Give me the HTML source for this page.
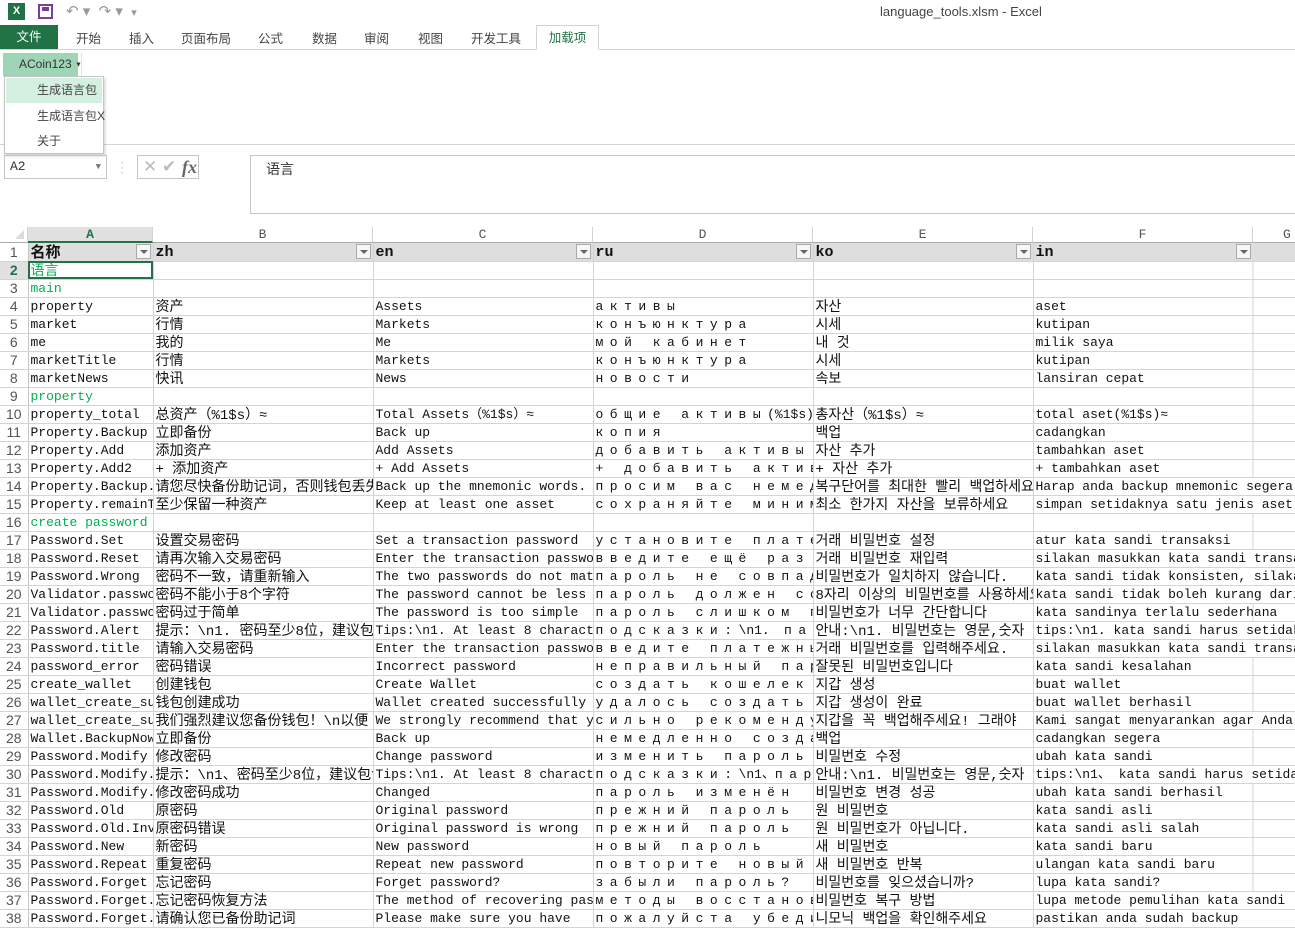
<!DOCTYPE html>
<html><head><meta charset="utf-8"><style>
*{margin:0;padding:0;box-sizing:border-box}
body{width:1295px;height:914px;overflow:hidden;background:#fff;position:relative;font-family:"Liberation Sans","Noto Sans CJK SC",sans-serif;color:#444}
.abs{position:absolute;white-space:nowrap}
.tab{position:absolute;top:28px;font-size:12.5px;color:#444}
table{position:absolute;left:0;top:243px;border-collapse:collapse;table-layout:fixed;width:1295px}
td{height:18px;border-right:1px solid #d4d4d4;border-bottom:1px solid #d4d4d4;white-space:nowrap;overflow:hidden;font:13px/17px "Liberation Mono","Noto Sans CJK SC",monospace;color:#111;padding:0 2px;vertical-align:bottom}
td.n{font:14px/17px "Liberation Sans",sans-serif;color:#555;text-align:center;padding:0;background:#fff;border-right:1px solid #c6c6c6}
td.z{font-size:14px;font-family:"Liberation Mono","Noto Sans CJK SC",monospace;vertical-align:top;line-height:13px;padding-top:4px}
td.k{font-size:14px;font-family:"Liberation Mono","Noto Sans CJK KR",monospace;vertical-align:top;line-height:13px;padding-top:4px}
td.r{letter-spacing:6.5px}
td.gr{color:#00b050}
td.g{background:linear-gradient(to right,transparent 219px,#d4d4d4 219px,#d4d4d4 220px,transparent 220px)}
tr.h td{background:#dedede;font-weight:bold;font-size:15px;position:relative}
.dd{position:absolute;right:2px;top:1px;width:15px;height:15px;background:#f6f6f6;border:1px solid #aaa}
.dd:after{content:"";position:absolute;left:3px;top:5px;border-left:4px solid transparent;border-right:4px solid transparent;border-top:4px solid #666}
.ch{position:absolute;top:227px;height:16px;font:13px/16px "Liberation Mono",monospace;color:#555;text-align:center;border-right:1px solid #d4d4d4;background:#fff;border-bottom:1px solid #ababab}
.mi{height:25px;font-size:12px;line-height:25px;padding-left:32px;color:#444;white-space:nowrap}
</style></head><body>
<div class="abs" style="left:8px;top:3px;width:17px;height:17px;background:#217346;color:#fff;font:bold 11px/17px 'Liberation Sans';text-align:center">X</div>
<div class="abs" style="left:38px;top:4px;width:15px;height:15px;border:2px solid #7b3d9c;background:#fff"><div style="margin:1px 2px;height:4px;background:#7b3d9c"></div></div>
<div class="abs" style="left:66px;top:2px;font-size:15px;color:#999">↶ ▾ &nbsp;↷ ▾ &nbsp;<span style="font-size:11px">▾</span></div>
<div class="abs" style="left:880px;top:4px;font-size:13px;color:#444">language_tools.xlsm - Excel</div>
<div class="abs" style="left:0;top:25px;width:58px;height:25px;background:#217346;color:#fff;font-size:12.5px;text-align:center;line-height:24px">文件</div>
<div class="tab" style="left:76px">开始</div>
<div class="tab" style="left:129px">插入</div>
<div class="tab" style="left:181px">页面布局</div>
<div class="tab" style="left:258px">公式</div>
<div class="tab" style="left:312px">数据</div>
<div class="tab" style="left:364px">审阅</div>
<div class="tab" style="left:418px">视图</div>
<div class="tab" style="left:471px">开发工具</div>
<div class="abs" style="left:0;top:49px;width:1295px;height:1px;background:#d4d4d4"></div>
<div class="abs" style="left:536px;top:25px;width:63px;height:25px;border:1px solid #d4d4d4;border-bottom:1px solid #fff;background:#fff;color:#217346;font-size:12.5px;text-align:center;line-height:24px">加载项</div>
<div class="abs" style="left:0;top:144px;width:1295px;height:1px;background:#d4d4d4"></div>
<div class="abs" style="left:81px;top:53px;width:1px;height:90px;background:#e2e2e2"></div>
<div class="abs" style="left:3px;top:53px;width:75px;height:23px;background:#9fd5b7;font-size:12px;line-height:23px;color:#333;padding-left:16px">ACoin123 <span style="font-size:7px;vertical-align:middle">▼</span></div>
<div class="abs" style="left:4px;top:76px;width:100px;height:78px;background:#fff;border:1px solid #c6c6c6;box-shadow:1px 2px 3px rgba(0,0,0,.2)">
<div class="mi" style="margin:1px;background:#d3f0e0;padding-left:31px">生成语言包</div>
<div class="mi">生成语言包X</div>
<div class="mi">关于</div>
</div>
<div class="abs" style="left:4px;top:155px;width:103px;height:24px;border:1px solid #c6c6c6;font:13px/22px 'Liberation Mono';padding-left:5px;color:#333">A2<span style="position:absolute;right:5px;font-size:9px;color:#777">▼</span></div>
<div class="abs" style="left:120px;top:160px;color:#bbb;font-size:12px;line-height:5px">·<br>·<br>·</div>
<div class="abs" style="left:137px;top:155px;width:62px;height:24px;border:1px solid #c6c6c6;color:#bbb;font-size:17px;line-height:22px;padding-left:5px;overflow:hidden">✕ ✔<i style="position:absolute;left:44px;top:0;color:#666;font-family:'Liberation Serif';font-size:18px"><b>fx</b></i></div>
<div class="abs" style="left:250px;top:155px;width:1050px;height:59px;border:1px solid #c6c6c6;font-size:14px;padding:3px 15px;color:#333">语言</div>
<div class="abs" style="left:0;top:227px;width:28px;height:16px;background:#fff;border-right:1px solid #d4d4d4;border-bottom:1px solid #ababab"><div style="position:absolute;right:3px;bottom:3px;border-left:9px solid transparent;border-bottom:9px solid #dcdcdc"></div></div>
<div class="ch" style="left:28px;width:125px;background:#e1e1e1;color:#217346;font-weight:bold;border-bottom:2px solid #217346">A</div>
<div class="ch" style="left:153px;width:220px">B</div>
<div class="ch" style="left:373px;width:220px">C</div>
<div class="ch" style="left:593px;width:220px">D</div>
<div class="ch" style="left:813px;width:220px">E</div>
<div class="ch" style="left:1033px;width:220px">F</div>
<div class="ch" style="left:1253px;width:60px;text-align:left;padding-left:30px">G</div>
<table>
<colgroup><col style="width:28px"><col style="width:125px"><col style="width:220px"><col style="width:220px"><col style="width:220px"><col style="width:220px"><col style="width:262px"></colgroup>
<tr class="h"><td class="n" style="font-weight:normal;font-size:14px;background:#fff">1</td><td class="z" style="font-weight:bold;font-size:15px">名称<span class="dd"></span></td><td>zh<span class="dd"></span></td><td>en<span class="dd"></span></td><td>ru<span class="dd"></span></td><td>ko<span class="dd"></span></td><td class="g" style="background:#dedede">in<span class="dd" style="right:44px"></span></td></tr>
<tr><td class="n" style="background:#e1e1e1;color:#217346;font-weight:bold">2</td><td class="z gr" style="outline:2px solid #217346;outline-offset:-2px">语言</td><td></td><td></td><td></td><td></td><td class="g"></td></tr>
<tr><td class="n">3</td><td class="gr">main</td><td></td><td></td><td></td><td></td><td class="g"></td></tr>
<tr><td class="n">4</td><td>property</td><td class="z">资产</td><td>Assets</td><td class="r">активы</td><td class="k">자산</td><td class="g">aset</td></tr>
<tr><td class="n">5</td><td>market</td><td class="z">行情</td><td>Markets</td><td class="r"> конъюнктура</td><td class="k">시세</td><td class="g">kutipan</td></tr>
<tr><td class="n">6</td><td>me</td><td class="z">我的</td><td>Me</td><td class="r">мой кабинет</td><td class="k">내 것</td><td class="g">milik saya</td></tr>
<tr><td class="n">7</td><td>marketTitle</td><td class="z">行情</td><td>Markets</td><td class="r">конъюнктура</td><td class="k">시세</td><td class="g">kutipan</td></tr>
<tr><td class="n">8</td><td>marketNews</td><td class="z">快讯</td><td>News</td><td class="r">новости</td><td class="k">속보</td><td class="g">lansiran cepat</td></tr>
<tr><td class="n">9</td><td class="gr">property</td><td></td><td></td><td></td><td></td><td class="g"></td></tr>
<tr><td class="n">10</td><td>property_total</td><td class="z">总资产（%1$s）≈</td><td>Total Assets（%1$s）≈</td><td class="r">общие активы<span style="letter-spacing:0">(%1$s)</span></td><td class="k">총자산（%1$s）≈</td><td class="g">total aset(%1$s)≈</td></tr>
<tr><td class="n">11</td><td>Property.Backup</td><td class="z">立即备份</td><td>Back up</td><td class="r">копия</td><td class="k">백업</td><td class="g">cadangkan</td></tr>
<tr><td class="n">12</td><td>Property.Add</td><td class="z">添加资产</td><td>Add Assets</td><td class="r">добавить активы</td><td class="k">자산 추가</td><td class="g">tambahkan aset</td></tr>
<tr><td class="n">13</td><td>Property.Add2</td><td class="z">+ 添加资产</td><td>+ Add Assets</td><td class="r">+ добавить активы</td><td class="k">+ 자산 추가</td><td class="g">+ tambahkan aset</td></tr>
<tr><td class="n">14</td><td>Property.Backup.Tip</td><td class="z">请您尽快备份助记词，否则钱包丢失</td><td>Back up the mnemonic words. Otherwise</td><td class="r">просим вас немедленно</td><td class="k">복구단어를 최대한 빨리 백업하세요</td><td>Harap anda backup mnemonic segera</td></tr>
<tr><td class="n">15</td><td>Property.remainTip</td><td class="z">至少保留一种资产</td><td>Keep at least one asset</td><td class="r">сохраняйте минимум</td><td class="k">최소 한가지 자산을 보류하세요</td><td>simpan setidaknya satu jenis aset</td></tr>
<tr><td class="n">16</td><td class="gr">create password</td><td></td><td></td><td></td><td></td><td class="g"></td></tr>
<tr><td class="n">17</td><td>Password.Set</td><td class="z">设置交易密码</td><td>Set a transaction password</td><td class="r">установите платежный</td><td class="k">거래 비밀번호 설정</td><td class="g">atur kata sandi transaksi</td></tr>
<tr><td class="n">18</td><td>Password.Reset</td><td class="z">请再次输入交易密码</td><td>Enter the transaction password again</td><td class="r">введите ещё раз</td><td class="k">거래 비밀번호 재입력</td><td>silakan masukkan kata sandi transaksi</td></tr>
<tr><td class="n">19</td><td>Password.Wrong</td><td class="z">密码不一致，请重新输入</td><td>The two passwords do not match</td><td class="r">пароль  не совпадает</td><td class="k">비밀번호가 일치하지 않습니다.</td><td>kata sandi tidak konsisten, silakan</td></tr>
<tr><td class="n">20</td><td>Validator.password</td><td class="z">密码不能小于8个字符</td><td>The password cannot be less than</td><td class="r">пароль должен содержать</td><td class="k">8자리 이상의 비밀번호를 사용하세요</td><td>kata sandi tidak boleh kurang dari</td></tr>
<tr><td class="n">21</td><td>Validator.password</td><td class="z">密码过于简单</td><td>The password is too simple</td><td class="r">пароль слишком простой</td><td class="k">비밀번호가 너무 간단합니다</td><td class="g">kata sandinya terlalu sederhana</td></tr>
<tr><td class="n">22</td><td>Password.Alert</td><td class="z">提示：\n1. 密码至少8位，建议包含</td><td>Tips:\n1. At least 8 characters</td><td class="r">подсказки:<span style="letter-spacing:0">\n1.</span> пароль</td><td class="k"> 안내:\n1. 비밀번호는 영문,숫자</td><td>tips:\n1.  kata sandi harus setidaknya</td></tr>
<tr><td class="n">23</td><td>Password.title</td><td class="z">请输入交易密码</td><td>Enter the transaction password</td><td class="r">введите платежный</td><td class="k">거래 비밀번호를 입력해주세요.</td><td>silakan masukkan kata sandi transaksi</td></tr>
<tr><td class="n">24</td><td>password_error</td><td class="z">密码错误</td><td>Incorrect password</td><td class="r">неправильный пароль</td><td class="k">잘못된 비밀번호입니다</td><td class="g">kata sandi kesalahan</td></tr>
<tr><td class="n">25</td><td>create_wallet</td><td class="z">创建钱包</td><td>Create Wallet</td><td class="r">создать кошелек</td><td class="k">지갑 생성</td><td class="g">buat wallet</td></tr>
<tr><td class="n">26</td><td>wallet_create_success</td><td class="z">钱包创建成功</td><td>Wallet created successfully</td><td class="r">удалось создать</td><td class="k">지갑 생성이 완료</td><td class="g">buat wallet berhasil</td></tr>
<tr><td class="n">27</td><td>wallet_create_success</td><td class="z">我们强烈建议您备份钱包！\n以便</td><td>We strongly recommend that you</td><td class="r">сильно рекомендуем</td><td class="k">지갑을 꼭 백업해주세요! 그래야</td><td>Kami sangat menyarankan agar Anda</td></tr>
<tr><td class="n">28</td><td>Wallet.BackupNow</td><td class="z">立即备份</td><td>Back up</td><td class="r">немедленно создать</td><td class="k">백업</td><td class="g">cadangkan segera</td></tr>
<tr><td class="n">29</td><td>Password.Modify</td><td class="z">修改密码</td><td>Change password</td><td class="r">изменить пароль</td><td class="k">비밀번호 수정</td><td class="g">ubah kata sandi</td></tr>
<tr><td class="n">30</td><td>Password.Modify.Tip</td><td class="z">提示：\n1、密码至少8位，建议包含</td><td>Tips:\n1. At least 8 characters</td><td class="r">подсказки:<span style="letter-spacing:0">\n1、</span>пароль</td><td class="k">안내:\n1. 비밀번호는 영문,숫자</td><td>tips:\n1、 kata sandi harus setidaknya</td></tr>
<tr><td class="n">31</td><td>Password.Modify.Ok</td><td class="z">修改密码成功</td><td>Changed</td><td class="r">пароль изменён</td><td class="k">비밀번호 변경 성공</td><td class="g">ubah kata sandi berhasil</td></tr>
<tr><td class="n">32</td><td>Password.Old</td><td class="z">原密码</td><td>Original password</td><td class="r">прежний пароль</td><td class="k">원 비밀번호</td><td class="g">kata sandi asli</td></tr>
<tr><td class="n">33</td><td>Password.Old.Invalid</td><td class="z">原密码错误</td><td>Original password is wrong</td><td class="r">прежний  пароль</td><td class="k">원 비밀번호가 아닙니다.</td><td class="g">kata sandi asli salah</td></tr>
<tr><td class="n">34</td><td>Password.New</td><td class="z">新密码</td><td>New password</td><td class="r">новый пароль</td><td class="k">새 비밀번호</td><td class="g">kata sandi baru</td></tr>
<tr><td class="n">35</td><td>Password.Repeat</td><td class="z">重复密码</td><td>Repeat new password</td><td class="r">повторите новый</td><td class="k">새 비밀번호 반복</td><td class="g">ulangan kata sandi baru</td></tr>
<tr><td class="n">36</td><td>Password.Forget</td><td class="z">忘记密码</td><td>Forget password?</td><td class="r">забыли пароль?</td><td class="k">비밀번호를 잊으셨습니까?</td><td class="g">lupa kata sandi?</td></tr>
<tr><td class="n">37</td><td>Password.Forget.Tip</td><td class="z">忘记密码恢复方法</td><td>The method of recovering password</td><td class="r">методы восстановления</td><td class="k">비밀번호 복구 방법</td><td>lupa metode pemulihan kata sandi</td></tr>
<tr><td class="n">38</td><td>Password.Forget.Msg</td><td class="z">请确认您已备份助记词</td><td>Please make sure you have</td><td class="r">пожалуйста убедитесь</td><td class="k">니모닉 백업을 확인해주세요</td><td>pastikan anda sudah backup</td></tr>
</table>
</body></html>
